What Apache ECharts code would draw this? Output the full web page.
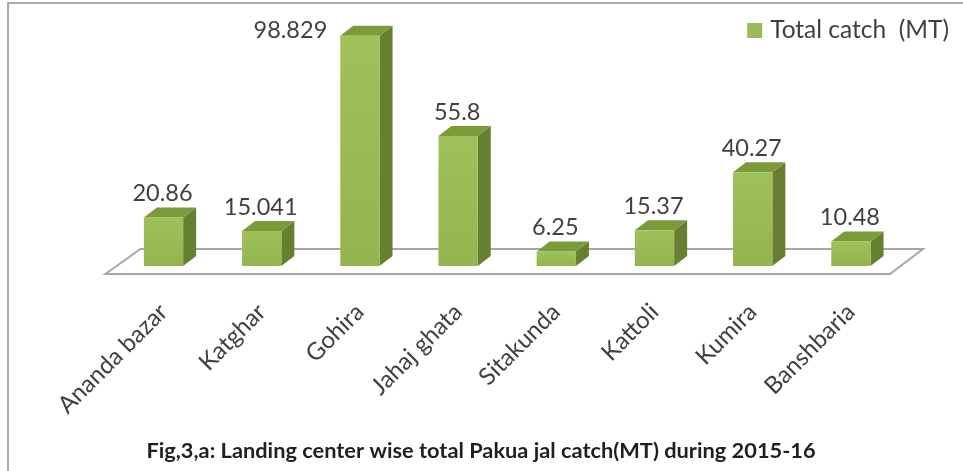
<!DOCTYPE html>
<html>
<head>
<meta charset="utf-8">
<style>
  html, body { margin: 0; padding: 0; background: #fff; }
  #chart { width: 963px; height: 471px; }
</style>
</head>
<body>
<div id="chart"></div>
<script src="https://cdn.jsdelivr.net/npm/echarts@6/dist/echarts.min.js"></script>
<script>
var categories = ['Ananda bazar', 'Katghar', 'Gohira', 'Jahaj ghata', 'Sitakunda', 'Kattoli', 'Kumira', 'Banshbaria'];
var totalCatch = [20.86, 15.041, 98.829, 55.8, 6.25, 15.37, 40.27, 10.48];
var labelTexts = ['20.86', '15.041', '98.829', '55.8', '6.25', '15.37', '40.27', '10.48'];

var font = 'Lato';
var depthX = 13, depthY = 10;

var myChart = echarts.init(document.getElementById('chart'));

// the flat floor the bars stand on, placed relative to the plot area
function renderFloor(params, api) {
    var g = params.coordSys;
    var bottom = g.y + g.height;
    return {
        type: 'polygon',
        shape: { points: [
            [g.x - 9, bottom + 8],
            [g.x + 26, bottom - 17],
            [g.x + g.width + 23, bottom - 17],
            [g.x + g.width - 10, bottom + 8]
        ] },
        style: { fill: '#fff', stroke: '#a6a6a6', lineWidth: 2 }
    };
}

// pseudo 3D bar: front, side and top faces plus the value on top
function renderBar(params, api) {
    var idx = api.value(0);
    var top = api.coord([idx, api.value(1)]);
    var base = api.coord([idx, 0]);
    var w = api.size([1, 0])[0] * 0.4;
    var x0 = top[0] - w / 2, x1 = top[0] + w / 2;
    var isTallest = api.value(1) === Math.max.apply(null, totalCatch);
    return {
        type: 'group',
        children: [{
            type: 'polygon',
            shape: { points: [[x1, top[1]], [x1 + depthX, top[1] - depthY], [x1 + depthX, base[1] - depthY], [x1, base[1]]] },
            style: { fill: '#66802f' }
        }, {
            type: 'polygon',
            shape: { points: [[x0, top[1]], [x0 + depthX, top[1] - depthY], [x1 + depthX, top[1] - depthY], [x1, top[1]]] },
            style: { fill: '#7b9a3a' }
        }, {
            type: 'rect',
            shape: { x: x0, y: top[1], width: w, height: base[1] - top[1] },
            style: { fill: new echarts.graphic.LinearGradient(0, 0, 0, 1, [
                { offset: 0, color: '#a0c05c' },
                { offset: 1, color: '#93b44e' }
            ]) }
        }, {
            type: 'text',
            style: {
                text: labelTexts[idx],
                x: isTallest ? x0 - 13 : top[0] - 1,
                y: isTallest ? top[1] - 5 : top[1] - depthY - 14,
                align: isTallest ? 'right' : 'center',
                verticalAlign: 'middle',
                font: '23.5px ' + font,
                fill: '#404040'
            }
        }]
    };
}

var option = {
    backgroundColor: '#fff',
    animation: false,
    grid: { left: 114.4, right: 63, top: 33, bottom: 205 },
    legend: {
        right: 9,
        top: 13,
        icon: 'rect',
        itemWidth: 15,
        itemHeight: 15,
        itemGap: 0,
        textStyle: { fontFamily: font, fontSize: 24.5, color: '#404040', padding: [0, 0, 0, 3] },
        data: ['Total catch  (MT)']
    },
    title: {
        text: 'Fig,3,a: Landing center wise total Pakua jal catch(MT) during 2015-16',
        left: 476,
        top: 435,
        textAlign: 'center',
        textStyle: { fontFamily: font, fontSize: 21.8, fontWeight: 'bold', color: '#1f1f1f' }
    },
    xAxis: {
        type: 'category',
        data: categories,
        axisLine: { show: false },
        axisTick: { show: false },
        axisLabel: { rotate: 45, interval: 0, margin: 42, fontFamily: font, fontSize: 24, color: '#404040' }
    },
    yAxis: {
        type: 'value',
        min: 0,
        max: 100,
        show: false,
        splitLine: { show: false }
    },
    series: [{
        type: 'custom',
        name: 'floor',
        renderItem: renderFloor,
        silent: true,
        z: 1,
        data: [0]
    }, {
        type: 'custom',
        name: 'Total catch  (MT)',
        renderItem: renderBar,
        itemStyle: { color: '#9bbb59' },
        encode: { x: 0, y: 1 },
        z: 2,
        data: totalCatch.map(function (v, i) { return [i, v]; })
    }],
    graphic: [{
        type: 'polyline',
        shape: { points: [[8, 471], [8, 3], [963, 3]] },
        style: { fill: 'none', stroke: '#a9a9a9', lineWidth: 2 }
    }]
};

myChart.setOption(option);
</script>
</body>
</html>
